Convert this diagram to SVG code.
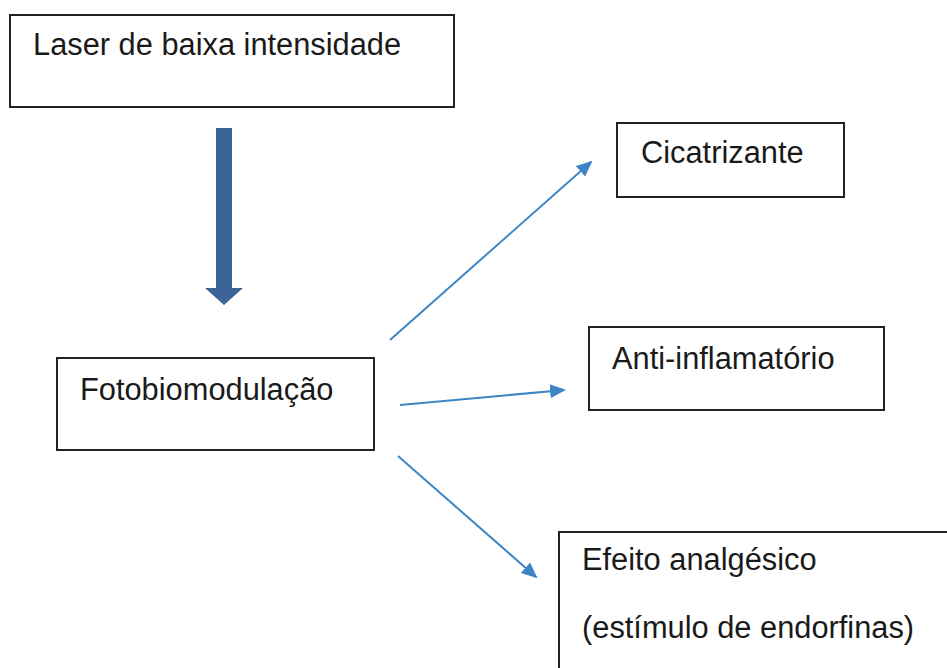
<svg xmlns="http://www.w3.org/2000/svg" width="947" height="668" viewBox="0 0 947 668">
<style>
.box{fill:#fff;stroke:#222;stroke-width:2}
.t{font-family:"Liberation Sans",Arial,sans-serif;font-size:30.8px;fill:#1a1a1a}
.c{stroke:#3d85c6;stroke-width:2;fill:none}
</style>
<defs>
<marker id="ah" markerWidth="8" markerHeight="7" refX="7" refY="3.5" orient="auto" markerUnits="strokeWidth">
<path d="M0,0 L8,3.5 L0,7 Z" fill="#3d85c6"/>
</marker>
</defs>
<rect width="947" height="668" fill="#fff"/>
<g id="laser">
<rect class="box" x="10" y="15" width="444" height="92"/>
<text class="t" x="33" y="55">Laser de baixa intensidade</text>
</g>
<g id="foto">
<rect class="box" x="57" y="358" width="317" height="92"/>
<text class="t" x="80" y="400">Fotobiomodulação</text>
</g>
<g id="cicatrizante">
<rect class="box" x="617" y="123" width="227" height="74"/>
<text class="t" x="641" y="163">Cicatrizante</text>
</g>
<g id="anti">
<rect class="box" x="589" y="327" width="295" height="83"/>
<text class="t" x="612" y="369">Anti-inflamatório</text>
</g>
<g id="analgesico">
<rect class="box" x="559" y="532" width="400" height="150"/>
<text class="t" x="582" y="570">Efeito analgésico</text>
<text class="t" x="582" y="638">(estímulo de endorfinas)</text>
</g>
<g id="connectors">
<path d="M216,128 H232 V288 H243 L224,305 L205,288 H216 Z" fill="#3c6496"/>
<line class="c" x1="390" y1="340" x2="591" y2="162" marker-end="url(#ah)"/>
<line class="c" x1="400" y1="405" x2="564" y2="390" marker-end="url(#ah)"/>
<line class="c" x1="398" y1="456" x2="536" y2="577" marker-end="url(#ah)"/>
</g>
</svg>
